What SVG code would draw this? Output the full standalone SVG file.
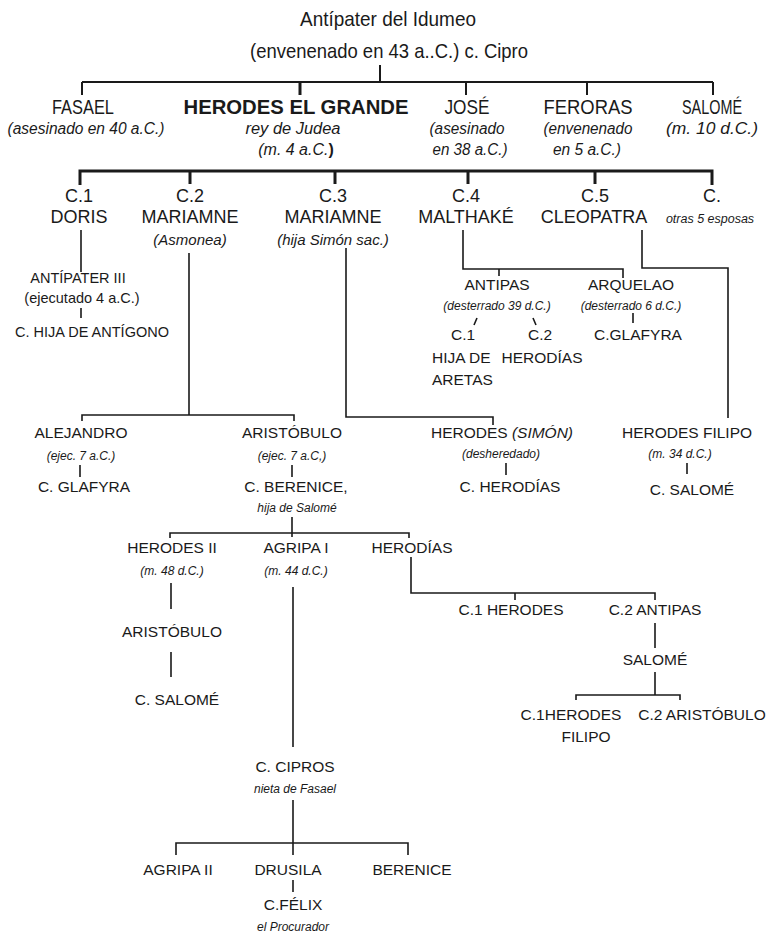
<svg xmlns="http://www.w3.org/2000/svg" width="768" height="934" viewBox="0 0 768 934">
<style>
text{font-family:"Liberation Sans",Arial,sans-serif;fill:#1a1a1a;text-anchor:middle}
.h{font-size:21px}
.hi{font-size:16px;font-style:italic}
.b{font-weight:bold}
.m{font-size:18px}
.mi{font-size:15px;font-style:italic}
.s{font-size:15.5px}
.p{font-size:14.5px}
.si{font-size:12px;font-style:italic}
.c path{fill:none;stroke:#1a1a1a;stroke-width:1.6}
.c .k{stroke-width:2}
.c .t{stroke-width:3}
</style>
<g class="c" id="connectors">
<path class="k" d="M380,65V82M82,82H713M82,82V95M466,82V95M587,82V95M713,82V95"/>
<path class="t" d="M300,82V95"/>
<path class="t" d="M80,185V171H712V185M190,171V184M335,171V184M468,171V184M595,171V184"/>
<path d="M81,230V272M81,308V318"/>
<path d="M189,253V415M82,421V415H294V421"/>
<path d="M80,465V477M292,465V477"/>
<path d="M292,517V537M170,538V533H409V538"/>
<path d="M171,583V609M171,652V677"/>
<path d="M293,587V747M293,800V855M176,855V843H408V855M293,880V892"/>
<path d="M411,557V593H655V600M515,593V600"/>
<path d="M655,623V648M655,672V695M576,700V695H680V700"/>
<path d="M346,248V417H493V425M506,463V475"/>
<path d="M463,230V269H623V278M499,269V276"/>
<path d="M477,318L474,325M533,318L536,325M633,313V323"/>
<path d="M642,230V268H728V418M687,463V474"/>
</g>
<g id="antipater">
<text class="h" x="388" y="26" textLength="176" lengthAdjust="spacingAndGlyphs">Antípater del Idumeo</text>
<text class="h" x="389" y="58" textLength="278" lengthAdjust="spacingAndGlyphs">(envenenado en 43 a..C.) c. Cipro</text>
</g>
<g id="fasael">
<text class="h" x="83" y="114" textLength="62" lengthAdjust="spacingAndGlyphs">FASAEL</text>
<text class="hi" x="86" y="134" textLength="157" lengthAdjust="spacingAndGlyphs">(asesinado en 40 a.C.)</text>
</g>
<g id="herodes">
<text class="h b" x="296" y="114" textLength="225" lengthAdjust="spacingAndGlyphs">HERODES EL GRANDE</text>
<text class="hi" x="293" y="134" textLength="95" lengthAdjust="spacingAndGlyphs">rey de Judea</text>
<text class="hi" x="296" y="155">(m. 4 a.C.<tspan font-weight="bold" font-style="normal">)</tspan></text>
</g>
<g id="jose">
<text class="h" x="467" y="114" textLength="45" lengthAdjust="spacingAndGlyphs">JOSÉ</text>
<text class="hi" x="467" y="134" textLength="75" lengthAdjust="spacingAndGlyphs">(asesinado</text>
<text class="hi" x="470" y="155" textLength="75" lengthAdjust="spacingAndGlyphs">en 38 a.C.)</text>
</g>
<g id="feroras">
<text class="h" x="588" y="114" textLength="89" lengthAdjust="spacingAndGlyphs">FERORAS</text>
<text class="hi" x="588" y="134" textLength="89" lengthAdjust="spacingAndGlyphs">(envenenado</text>
<text class="hi" x="587" y="155" textLength="68" lengthAdjust="spacingAndGlyphs">en 5 a.C.)</text>
</g>
<g id="salome">
<text class="h" x="712" y="114" textLength="60" lengthAdjust="spacingAndGlyphs">SALOMÉ</text>
<text class="hi" x="712" y="134" textLength="92" lengthAdjust="spacingAndGlyphs">(m. 10 d.C.)</text>
</g>
<g id="doris">
<text class="m" x="79" y="202">C.1</text>
<text class="m" x="79" y="223">DORIS</text>
</g>
<g id="mariamne1">
<text class="m" x="190" y="202">C.2</text>
<text class="m" x="190" y="223">MARIAMNE</text>
<text class="mi" x="190" y="245">(Asmonea)</text>
</g>
<g id="mariamne2">
<text class="m" x="333" y="202">C.3</text>
<text class="m" x="333" y="223">MARIAMNE</text>
<text class="mi" x="333" y="245">(hija Simón sac.)</text>
</g>
<g id="malthake">
<text class="m" x="466" y="202">C.4</text>
<text class="m" x="466" y="223">MALTHAKÉ</text>
</g>
<g id="cleopatra">
<text class="m" x="595" y="202">C.5</text>
<text class="m" x="594" y="223">CLEOPATRA</text>
</g>
<g id="otras">
<text class="m" x="712" y="202">C.</text>
<text x="710" y="223" style="font-size:12.5px;font-style:italic">otras 5 esposas</text>
</g>
<g id="antipater3">
<text class="p" x="78" y="283">ANTÍPATER III</text>
<text class="p" x="82" y="303">(ejecutado 4 a.C.)</text>
<text class="p" x="92" y="337">C. HIJA DE ANTÍGONO</text>
</g>
<g id="antipas">
<text class="s" x="497" y="290">ANTIPAS</text>
<text class="si" x="497" y="310">(desterrado 39 d.C.)</text>
<text class="s" x="463" y="340">C.1</text>
<text class="s" x="432" y="363" style="text-anchor:start">HIJA DE</text>
<text class="s" x="432" y="385" style="text-anchor:start">ARETAS</text>
<text class="s" x="540" y="340">C.2</text>
<text class="s" x="542" y="363">HERODÍAS</text>
</g>
<g id="arquelao">
<text class="s" x="631" y="290">ARQUELAO</text>
<text class="si" x="631" y="310">(desterrado 6 d.C.)</text>
<text class="s" x="638" y="340">C.GLAFYRA</text>
</g>
<g id="alejandro">
<text class="s" x="81" y="438">ALEJANDRO</text>
<text class="si" x="81" y="460">(ejec. 7 a.C.)</text>
<text class="s" x="84" y="492">C. GLAFYRA</text>
</g>
<g id="aristobulo">
<text class="s" x="292" y="438">ARISTÓBULO</text>
<text class="si" x="292" y="460">(ejec. 7 a.C,)</text>
<text class="s" x="296" y="492">C. BERENICE,</text>
<text class="si" x="297" y="512">hija de Salomé</text>
</g>
<g id="herodes-simon">
<text class="s" x="502" y="438">HERODES <tspan font-style="italic">(SIMÓN)</tspan></text>
<text class="si" x="501" y="458">(desheredado)</text>
<text class="s" x="510" y="492">C. HERODÍAS</text>
</g>
<g id="herodes-filipo">
<text class="s" x="687" y="438">HERODES FILIPO</text>
<text class="si" x="680" y="458">(m. 34 d.C.)</text>
<text class="s" x="692" y="495">C. SALOMÉ</text>
</g>
<g id="herodes2">
<text class="s" x="172" y="553">HERODES II</text>
<text class="si" x="172" y="575">(m. 48 d.C.)</text>
</g>
<g id="aristobulo2">
<text class="s" x="172" y="637">ARISTÓBULO</text>
<text class="s" x="177" y="705">C. SALOMÉ</text>
</g>
<g id="agripa1">
<text class="s" x="296" y="553">AGRIPA I</text>
<text class="si" x="296" y="575">(m. 44 d.C.)</text>
</g>
<g id="herodias">
<text class="s" x="412" y="553">HERODÍAS</text>
</g>
<g id="c1herodes">
<text class="s" x="511" y="615">C.1 HERODES</text>
</g>
<g id="c2antipas">
<text class="s" x="655" y="615">C.2 ANTIPAS</text>
</g>
<g id="salome2">
<text class="s" x="655" y="665">SALOMÉ</text>
</g>
<g id="c1herodes-filipo">
<text class="s" x="571" y="720">C.1HERODES</text>
<text class="s" x="586" y="742">FILIPO</text>
</g>
<g id="c2aristobulo">
<text class="s" x="702" y="720">C.2 ARISTÓBULO</text>
</g>
<g id="cipros">
<text class="s" x="295" y="772">C. CIPROS</text>
<text class="si" x="295" y="793">nieta de Fasael</text>
</g>
<g id="agripa2">
<text class="s" x="178" y="875">AGRIPA II</text>
</g>
<g id="drusila">
<text class="s" x="288" y="875">DRUSILA</text>
<text class="s" x="293" y="910">C.FÉLIX</text>
<text class="si" x="293" y="931">el Procurador</text>
</g>
<g id="berenice">
<text class="s" x="412" y="875">BERENICE</text>
</g>
</svg>
